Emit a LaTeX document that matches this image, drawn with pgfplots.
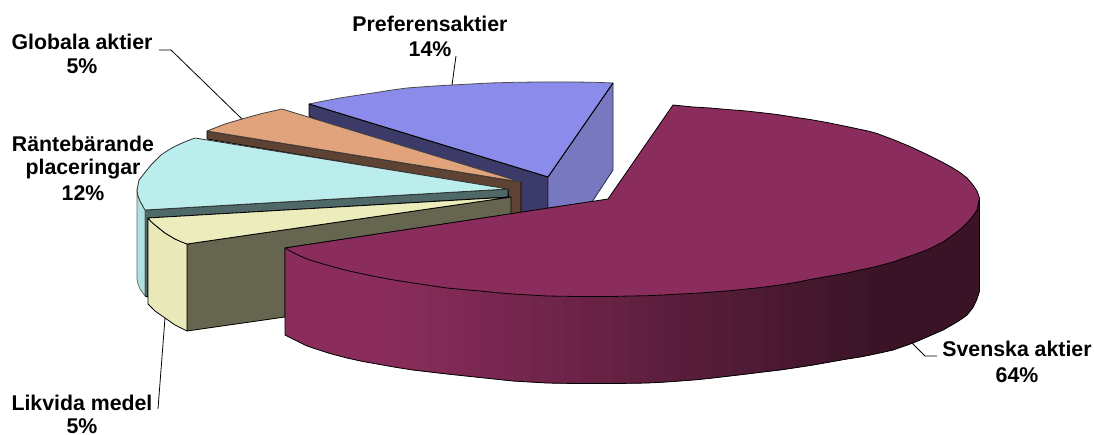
\documentclass[border=0pt]{standalone}
\usepackage{pgfplots}
\pgfplotsset{compat=1.18}
\usepackage{fontspec}
\setmainfont{Liberation Sans}
\definecolor{pA}{RGB}{139,45,92}
\definecolor{pB}{RGB}{58,20,38}
\definecolor{prefT}{RGB}{139,139,235}
\definecolor{prefR}{RGB}{120,120,192}
\definecolor{prefL}{RGB}{60,58,104}
\definecolor{oraT}{RGB}{224,163,123}
\definecolor{oraL}{RGB}{94,66,51}
\definecolor{bluT}{RGB}{187,237,237}
\definecolor{bluL}{RGB}{79,104,104}
\definecolor{bluO}{RGB}{176,224,224}
\definecolor{yelT}{RGB}{236,236,189}
\definecolor{yelL}{RGB}{102,102,80}
\definecolor{yelO}{RGB}{233,233,186}
\newcommand\band[2]{\addplot[fill=pA!#1!pB,draw=pA!#1!pB,line width=0.3pt] coordinates {#2};}
\tikzset{lab/.style={font=\fontsize{21.3}{24}\selectfont\bfseries,inner sep=0pt,anchor=base}}
\begin{document}
\begin{tikzpicture}
\begin{axis}[scale only axis,width=1094pt,height=435pt,xmin=0,xmax=1094,ymin=0,ymax=435,
  y dir=reverse,hide axis,clip=false,
  every axis plot/.append style={mark=none,line join=round}]
\addplot[draw=none] coordinates {(0,0)(1094,435)};
% Preferensaktier
\addplot[fill=prefL,draw=black,line width=0.8pt] coordinates {(309,104)(548,177)(548,215)(510,215)(309,116)(309,104)};
\addplot[fill=prefR,draw=prefL!70!black,line width=0.8pt] coordinates {(548,177)(613,83)(613,170)(592,202)(548,208)(548,177)};
\addplot[fill=prefT,draw=black!70,line width=0.8pt] coordinates {(309,104)(324,101)(340,98)(356,95.5)(373,93)(390,90.3)(407,88)(430,86.3)(452,85)(471,84)(490,83)(515,82.3)(540,82)(573,82)(595,82.3)(613,83)(548,177)(309,104)};
\addplot[black,line width=0.9pt] coordinates {(309,104)(548,177)(613,83)};
% Globala aktier
\addplot[fill=oraL,draw=black,line width=0.8pt] coordinates {(207,131)(521,182)(521,214)(510,214)(508,190)(207,139)(207,131)};
\addplot[fill=oraT,draw=black!75,line width=0.8pt] coordinates {(207,131)(225,124)(242,119)(262,113.5)(282,109)(521,182)(207,131)};
% Räntebärande
\addplot[fill=bluL,draw=black,line width=0.8pt] coordinates {(145,210)(508,189)(508,197)(148,218)(148,297)(145,296)(145,210)};
\addplot[fill=bluO,draw=black!60,line width=0.7pt] coordinates {(137,190)(138,196)(140,201)(145,210)(145,296)(140,289)(138,284)(137,279)(137,190)};
\addplot[fill=bluT,draw=black!80,line width=0.8pt] coordinates {(145,210)(140,201)(138,196)(137,190)(138,185)(139,180)(143,175)(147,170)(151,165)(156,160)(161,155)(167,151)(173,147.3)(180,144)(187,141)(195,138)(508,189)(145,210)};
% Likvida medel
\addplot[fill=yelL,draw=black,line width=0.8pt] coordinates {(187,244)(511,197)(511,214)(285,248)(285,317)(187,331)(187,244)};
\addplot[fill=yelO,draw=black,line width=0.8pt] coordinates {(148,218)(155,225)(165,233)(175,239)(187,244)(187,331)(175,325)(165,318)(155,311)(148,304)(148,218)};
\addplot[fill=yelT,draw=black,line width=0.8pt] coordinates {(148,218)(151,221.5)(155,225)(160,229)(165,233)(170,236)(175,239)(181,241.7)(187,244)(511,197)(148,218)};
% Svenska aktier: outer wall in bands
\band{100}{(285,248)(292,252)(299,255.5)(306,258.5)(313,261)(330,266)(347,270.5)(363,274)(380,277.5)(380,364.5)(363,361.5)(347,358)(330,353.5)(313,348)(306,345.5)(299,342)(292,338.5)(285,335)}
\band{98}{(380,277.5)(397,280.5)(397,367.5)(380,364.5)}
\band{95}{(397,280.5)(413,283)(413,370)(397,367.5)}
\band{92}{(413,283)(430,285.5)(430,372)(413,370)}
\band{88}{(430,285.5)(447,288)(447,374)(430,372)}
\band{85}{(447,288)(463,289.5)(463,375.7)(447,374)}
\band{82}{(463,289.5)(480,291)(480,377.5)(463,375.7)}
\band{78}{(480,291)(497,292.7)(497,379.3)(480,377.5)}
\band{75}{(497,292.7)(513,294)(513,381)(497,379.3)}
\band{72}{(513,294)(530,295)(530,382)(513,381)}
\band{68}{(530,295)(547,296)(547,383)(530,382)}
\band{65}{(547,296)(563,296.3)(563,383.3)(547,383)}
\band{62}{(563,296.3)(580,296.5)(580,383.5)(563,383.3)}
\band{58}{(580,296.5)(597,296.6)(597,383.6)(580,383.5)}
\band{55}{(597,296.6)(613,296.5)(613,383.5)(597,383.6)}
\band{52}{(613,296.5)(630,296)(630,383.3)(613,383.5)}
\band{48}{(630,296)(647,295.7)(647,383)(630,383.3)}
\band{45}{(647,295.7)(663,295)(663,382.2)(647,383)}
\band{42}{(663,295)(680,294)(680,381)(663,382.2)}
\band{38}{(680,294)(697,293.2)(697,379.7)(680,381)}
\band{35}{(697,293.2)(713,292)(713,378)(697,379.7)}
\band{32}{(713,292)(730,290.7)(730,376)(713,378)}
\band{28}{(730,290.7)(747,289)(747,374)(730,376)}
\band{25}{(747,289)(763,287.2)(763,372)(747,374)}
\band{22}{(763,287.2)(780,285)(780,370)(763,372)}
\band{18}{(780,285)(797,282.2)(797,367.5)(780,370)}
\band{15}{(797,282.2)(813,279)(813,365)(797,367.5)}
\band{12}{(813,279)(830,276)(830,362)(813,365)}
\band{8}{(830,276)(847,273)(847,359)(830,362)}
\band{5}{(847,273)(860,270)(860,357)(847,359)}
\band{3}{(860,270)(870,268)(870,355)(860,357)}
\band{0}{(870,268)(882,265)(893,262)(903,258.5)(913,255)(920,252.5)(927,250)(935,246)(943,242)(950,237)(957,232)(963,227)(967,223)(973,216)(977,210)(979.5,198)(979.5,291)(977,299)(973,307.5)(967,315)(963,318)(957,322)(950,326)(943,330)(935,333.5)(927,337)(920,340)(913,343)(903,346.5)(893,350)(882,352.5)(870,355)}
\addplot[black,line width=0.8pt] coordinates {(285,248)(285,335)(292,338.5)(299,342)(306,345.5)(313,348)(330,353.5)(347,358)(363,361.5)(380,364.5)(397,367.5)(413,370)(430,372)(447,374)(463,375.7)(480,377.5)(497,379.3)(513,381)(530,382)(547,383)(563,383.3)(580,383.5)(597,383.6)(613,383.5)(630,383.3)(647,383)(663,382.2)(680,381)(697,379.7)(713,378)(730,376)(747,374)(763,372)(780,370)(797,367.5)(813,365)(830,362)(847,359)(860,357)(870,355)(882,352.5)(893,350)(903,346.5)(913,343)(920,340)(927,337)(935,333.5)(943,330)(950,326)(957,322)(963,318)(967,315)(973,307.5)(977,299)(979.5,291)(979.5,198)};
\addplot[fill=pA,draw=black,line width=0.8pt] coordinates {(285,248)(608,199)(673,105)(693,107)(710,108)(727,109.5)(743,110.7)(760,112.5)(777,114.5)(793,117)(810,119.5)(827,122.5)(849,127)(870,131.5)(877,133.5)(893,139.5)(910,146.5)(927,154.5)(943,162.5)(952,167.5)(960,172.5)(967,178)(973,185)(977,191)(979.5,198)(977,210)(973,216)(967,223)(963,227)(957,232)(950,237)(943,242)(935,246)(927,250)(920,252.5)(913,255)(903,258.5)(893,262)(882,265)(870,268)(860,270)(847,273)(830,276)(813,279)(797,282.2)(780,285)(763,287.2)(747,289)(730,290.7)(713,292)(697,293.2)(680,294)(663,295)(647,295.7)(630,296)(613,296.5)(597,296.6)(580,296.5)(563,296.3)(547,296)(530,295)(513,294)(497,292.7)(480,291)(463,289.5)(447,288)(430,285.5)(413,283)(397,280.5)(380,277.5)(363,274)(347,270.5)(330,266)(313,261)(306,258.5)(299,255.5)(292,252)(285,248)};
% Leader lines
\addplot[black,line width=0.8pt] coordinates {(159,50)(171,50)(242,119)};
\addplot[black,line width=0.8pt] coordinates {(456,56)(452,85)};
\addplot[black,line width=0.8pt] coordinates {(937,356)(925,356)(912,343)};
\addplot[black,line width=0.8pt] coordinates {(158,409)(165,318)};
% Labels
\node[lab] at (axis cs:82,50) {Globala aktier};
\node[lab] at (axis cs:82,74) {5\%};
\node[lab] at (axis cs:83,152) {Räntebärande};
\node[lab] at (axis cs:83,175) {placeringar};
\node[lab] at (axis cs:83,201) {12\%};
\node[lab] at (axis cs:430,32) {Preferensaktier};
\node[lab] at (axis cs:430,57) {14\%};
\node[lab] at (axis cs:1017,356) {Svenska aktier};
\node[lab] at (axis cs:1017,382) {64\%};
\node[lab] at (axis cs:82,410) {Likvida medel};
\node[lab] at (axis cs:82,433) {5\%};
\end{axis}
\end{tikzpicture}
\end{document}
